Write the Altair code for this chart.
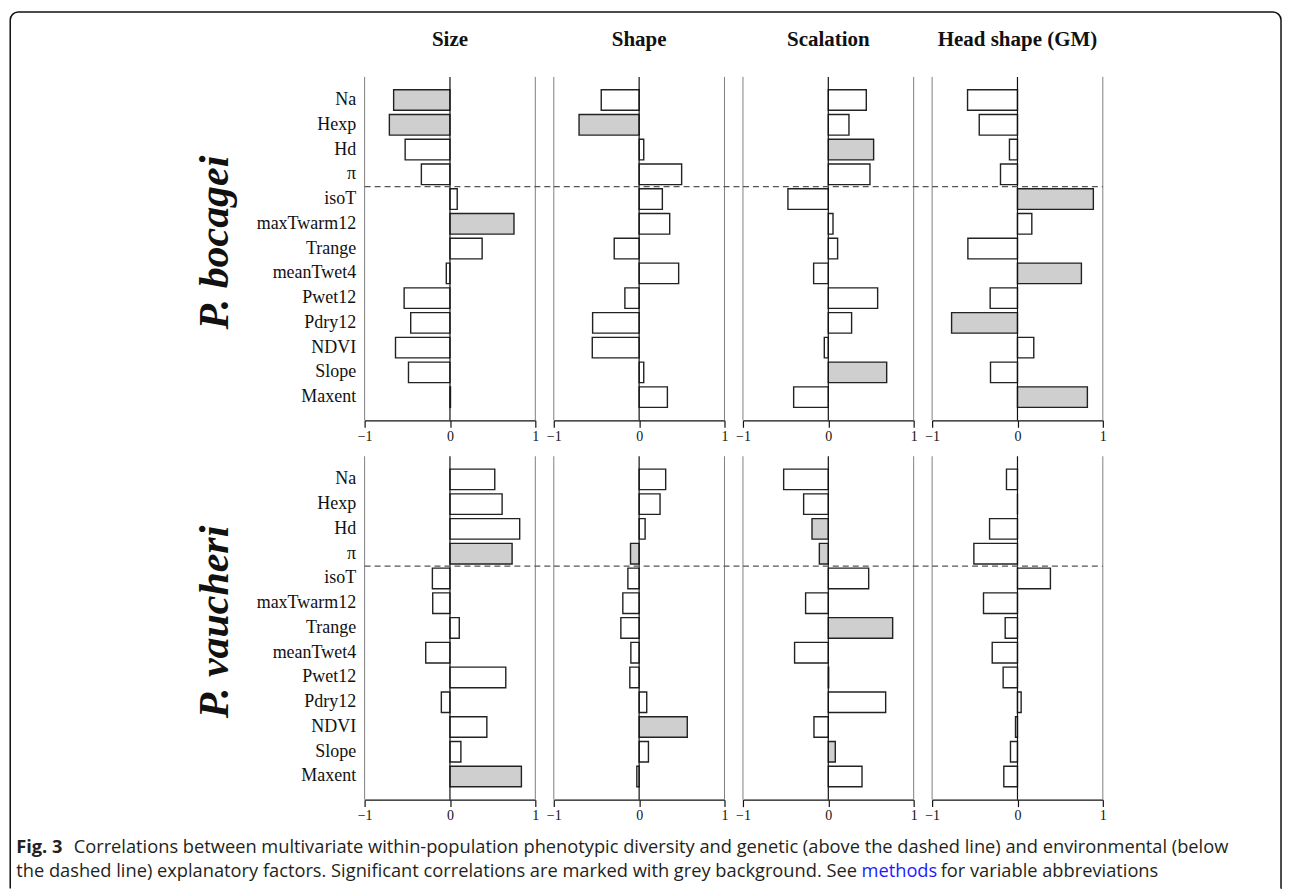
import altair as alt
import pandas as pd

variables = ["Na", "Hexp", "Hd", "π", "isoT", "maxTwarm12", "Trange",
             "meanTwet4", "Pwet12", "Pdry12", "NDVI", "Slope", "Maxent"]
traits = ["Size", "Shape", "Scalation", "Head shape (GM)"]
species = ["P. bocagei", "P. vaucheri"]

# correlation coefficients, one list per panel (P. bocagei)
bocagei_size = [-0.66, -0.71, -0.525, -0.335, 0.085, 0.75, 0.377, -0.043, -0.537, -0.46, -0.638, -0.486, 0.006]
bocagei_shape = [-0.444, -0.704, 0.054, 0.498, 0.272, 0.358, -0.292, 0.463, -0.167, -0.545, -0.549, 0.054, 0.331]
bocagei_scalation = [0.445, 0.242, 0.531, 0.488, -0.473, 0.055, 0.109, -0.172, 0.578, 0.273, -0.047, 0.684, -0.406]
bocagei_head = [-0.585, -0.448, -0.094, -0.199, 0.889, 0.168, -0.581, 0.749, -0.32, -0.772, 0.191, -0.316, 0.819]

# P. vaucheri
vaucheri_size = [0.525, 0.611, 0.817, 0.728, -0.206, -0.202, 0.109, -0.284, 0.654, -0.101, 0.432, 0.128, 0.837]
vaucheri_shape = [0.311, 0.245, 0.07, -0.101, -0.132, -0.191, -0.214, -0.097, -0.109, 0.089, 0.564, 0.109, -0.027]
vaucheri_scalation = [-0.523, -0.289, -0.191, -0.105, 0.473, -0.266, 0.754, -0.395, 0.004, 0.672, -0.168, 0.082, 0.395]
vaucheri_head = [-0.129, 0.0, -0.327, -0.511, 0.386, -0.398, -0.144, -0.296, -0.168, 0.043, -0.023, -0.082, -0.16]

# significance flags (1 = significant, grey background)
bocagei_size_sig = [1, 1, 0, 0, 0, 1, 0, 0, 0, 0, 0, 0, 0]
bocagei_shape_sig = [0, 1, 0, 0, 0, 0, 0, 0, 0, 0, 0, 0, 0]
bocagei_scalation_sig = [0, 0, 1, 0, 0, 0, 0, 0, 0, 0, 0, 1, 0]
bocagei_head_sig = [0, 0, 0, 0, 1, 0, 0, 1, 0, 1, 0, 0, 1]
vaucheri_size_sig = [0, 0, 0, 1, 0, 0, 0, 0, 0, 0, 0, 0, 1]
vaucheri_shape_sig = [0, 0, 0, 1, 0, 0, 0, 0, 0, 0, 1, 0, 0]
vaucheri_scalation_sig = [0, 0, 1, 1, 0, 0, 1, 0, 0, 0, 0, 1, 0]
vaucheri_head_sig = [0, 0, 0, 0, 0, 0, 0, 0, 0, 0, 0, 0, 0]

x_ticks = [-1, 0, 1]

values = [[bocagei_size, bocagei_shape, bocagei_scalation, bocagei_head],
          [vaucheri_size, vaucheri_shape, vaucheri_scalation, vaucheri_head]]
sigs = [[bocagei_size_sig, bocagei_shape_sig, bocagei_scalation_sig, bocagei_head_sig],
        [vaucheri_size_sig, vaucheri_shape_sig, vaucheri_scalation_sig, vaucheri_head_sig]]

caption_1a = "Fig. 3"
caption_1b = "Correlations between multivariate within-population phenotypic diversity and genetic (above the dashed line) and environmental (below"
caption_2a = "the dashed line) explanatory factors. Significant correlations are marked with grey background. See"
caption_2b = "methods"
caption_2c = "for variable abbreviations"

SERIF = "Liberation Serif"
SANS = "Open Sans"
W, H = 171, 344
GAP_X, GAP_Y = 18.5, 36
X0, Y0 = 364, 75  # pixel origin of first panel (used for decorations)
CAP_SIZE = 18.3

one = pd.DataFrame({"k": [0]})


def panel(si, ti):
    df = pd.DataFrame({
        "var": variables,
        "r": values[si][ti],
        "sig": ["yes" if s else "no" for s in sigs[si][ti]],
    })
    xscale = alt.Scale(domain=[-1, 1], nice=False)
    yscale = alt.Scale(domain=variables, paddingInner=0.17, paddingOuter=0.52)
    xaxis = alt.Axis(title=None, values=x_ticks, grid=False, tickSize=7,
                     labelExpr="datum.value == 0 ? '0' : replace(format(datum.value, 'd'), '-', '\u2212')",
                     tickColor="#111", tickWidth=1.2, domainColor="#111", domainWidth=1.2,
                     labelFont=SERIF, labelFontSize=14, labelColor="#111", labelPadding=2,
                     labelFlush=False, labelOverlap=False)
    if ti == 0:
        yaxis = alt.Axis(title=None, ticks=False, domain=False, grid=False, labelFont=SERIF,
                         labelFontSize=18, labelColor="#111", labelPadding=9, labelLimit=0)
    else:
        yaxis = None

    edges = alt.Chart(pd.DataFrame({"e": [-1, 1]})).mark_rule(color="#808080", strokeWidth=1).encode(
        x=alt.X("e:Q", scale=xscale, axis=xaxis))
    bars = alt.Chart(df).mark_bar(stroke="#222222", strokeWidth=1.4).encode(
        x=alt.X("r:Q", scale=xscale, axis=xaxis),
        x2=alt.X2(datum=0),
        y=alt.Y("var:N", scale=yscale, axis=yaxis),
        fill=alt.Fill("sig:N", scale=alt.Scale(domain=["yes", "no"], range=["#cfcfcf", "#ffffff"]),
                      legend=None),
    )
    zero = alt.Chart(pd.DataFrame({"z": [0]})).mark_rule(color="#111111", strokeWidth=1.2).encode(
        x=alt.X("z:Q", scale=xscale, axis=xaxis))
    dash = alt.Chart(pd.DataFrame({"b": ["isoT"]})).mark_rule(
        strokeDash=[6, 4], color="#555555", strokeWidth=1.2, yOffset=-2.1).encode(
        y=alt.Y("b:N", scale=yscale, axis=yaxis, bandPosition=0),
        x=alt.value(0),
        x2=alt.value(W + GAP_X if ti < 3 else W),
    )
    layers = [edges, bars, zero, dash]

    if si == 0:
        layers.append(alt.Chart(one).mark_text(
            text=traits[ti], font=SERIF, fontSize=21, fontWeight="bold", color="#111",
            align="center", baseline="middle").encode(x=alt.value(W / 2), y=alt.value(-37)))
    if ti == 0:
        layers.append(alt.Chart(one).mark_text(
            text=species[si], font=SERIF, fontSize=42, fontWeight="bold", fontStyle="italic",
            color="#111", angle=270, align="center", baseline="alphabetic").encode(
            x=alt.value(227 - X0), y=alt.value(166)))
    if si == 0 and ti == 0:
        # figure frame (open at the bottom)
        bw, bh, r = 1282 - 9, 888 - 10, 8
        d1 = (bw - 2 * r) + 12.57 + (bh - r)
        d2 = (bh - r) + 12.57
        layers.append(alt.Chart(one).mark_rect(
            fillOpacity=0, stroke="#111", strokeWidth=1.5, cornerRadiusTopLeft=r,
            cornerRadiusTopRight=r, strokeDash=[d1, bw, d2, 3000]).encode(
            x=alt.value(9 - X0), x2=alt.value(1282 - X0),
            y=alt.value(10 - Y0), y2=alt.value(888 - Y0)))
    if si == 1 and ti == 0:
        y1, y2 = 847 - 455, 872 - 455
        k = CAP_SIZE / 17.0
        x2a_end = 15 + 782 * k
        x2b = x2a_end + 5
        x2c = x2b + 69 * k + 5
        cap = dict(font=SANS, fontSize=CAP_SIZE, align="left", baseline="middle", color="#231f20")
        layers += [
            alt.Chart(one).mark_text(text=caption_1a, fontWeight="bold", **cap).encode(
                x=alt.value(15 - X0), y=alt.value(y1)),
            alt.Chart(one).mark_text(text=caption_1b, **cap).encode(
                x=alt.value(15 + 47 * k + 7 - X0), y=alt.value(y1)),
            alt.Chart(one).mark_text(text=caption_2a, **cap).encode(
                x=alt.value(15 - X0), y=alt.value(y2)),
            alt.Chart(one).mark_text(text=caption_2b, **{**cap, "color": "#1a1aff"}).encode(
                x=alt.value(x2b - X0), y=alt.value(y2)),
            alt.Chart(one).mark_text(text=caption_2c, **cap).encode(
                x=alt.value(x2c - X0), y=alt.value(y2)),
        ]
    return alt.layer(*layers).properties(width=W, height=H)


panels = [panel(si, ti) for si in range(2) for ti in range(4)]

chart = alt.concat(
    *panels, columns=4, spacing={"row": GAP_Y, "column": GAP_X}, bounds="flush"
).properties(
    padding={"left": 8.25, "top": 9.25, "right": 7, "bottom": 0},
    background="white",
).configure_view(stroke="transparent")

chart.save("out.html", embed_options={"renderer": "svg", "actions": False})
